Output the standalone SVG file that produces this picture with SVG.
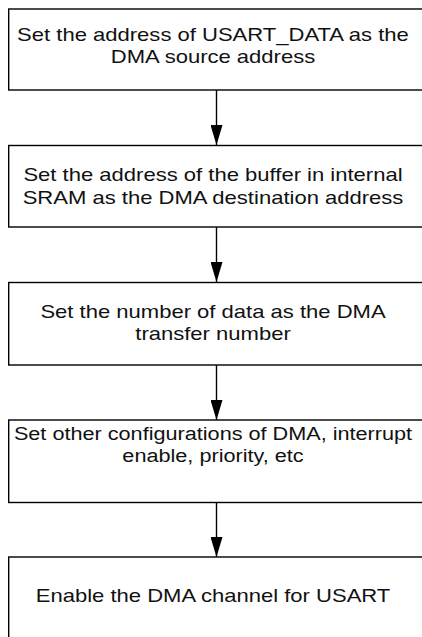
<svg xmlns="http://www.w3.org/2000/svg" width="422" height="637" viewBox="0 0 422 637">
<defs>
<marker id="ah" markerUnits="userSpaceOnUse" markerWidth="20" markerHeight="12" refX="20" refY="6" orient="auto" viewBox="0 0 20 12">
<path d="M0,0 L20,6 L0,12 Z" fill="#000"/>
</marker>
</defs>
<style>
.box{fill:#fff;stroke:#000;stroke-width:1.4}
.t{font-family:"Liberation Sans",Arial,sans-serif;font-size:19px;fill:#111;text-anchor:middle}
.c{stroke:#000;stroke-width:1.4;fill:none}
</style>
<rect width="422" height="637" fill="#fff"/>
<g id="connectors">
<line class="c" x1="216.5" y1="90" x2="216.5" y2="145" marker-end="url(#ah)"/>
<line class="c" x1="216.5" y1="227" x2="216.5" y2="282" marker-end="url(#ah)"/>
<line class="c" x1="216.5" y1="365" x2="216.5" y2="420" marker-end="url(#ah)"/>
<line class="c" x1="216.5" y1="502.5" x2="216.5" y2="557" marker-end="url(#ah)"/>
</g>
<g id="n1">
<rect class="box" x="8.7" y="9" width="420" height="81"/>
<g transform="translate(213,0) scale(1.16,1)">
<text class="t" x="0" y="41">Set the address of USART_DATA as the</text>
<text class="t" x="0" y="63">DMA source address</text>
</g>
</g>
<g id="n2">
<rect class="box" x="8.7" y="145.5" width="420" height="81.5"/>
<g transform="translate(213,0) scale(1.16,1)">
<text class="t" x="0" y="181.5">Set the address of the buffer in internal</text>
<text class="t" x="0" y="204">SRAM as the DMA destination address</text>
</g>
</g>
<g id="n3">
<rect class="box" x="8.7" y="282.5" width="420" height="82.5"/>
<g transform="translate(213,0) scale(1.16,1)">
<text class="t" x="0" y="318">Set the number of data as the DMA</text>
<text class="t" x="0" y="340">transfer number</text>
</g>
</g>
<g id="n4">
<rect class="box" x="8.7" y="420" width="420" height="82.5"/>
<g transform="translate(213,0) scale(1.14,1)">
<text class="t" x="0" y="440">Set other configurations of DMA, interrupt</text>
<text class="t" x="0" y="462">enable, priority, etc</text>
</g>
</g>
<g id="n5">
<rect class="box" x="8.7" y="557" width="420" height="100"/>
<g transform="translate(213,0) scale(1.16,1)">
<text class="t" x="0" y="602">Enable the DMA channel for USART</text>
</g>
</g>
</svg>
